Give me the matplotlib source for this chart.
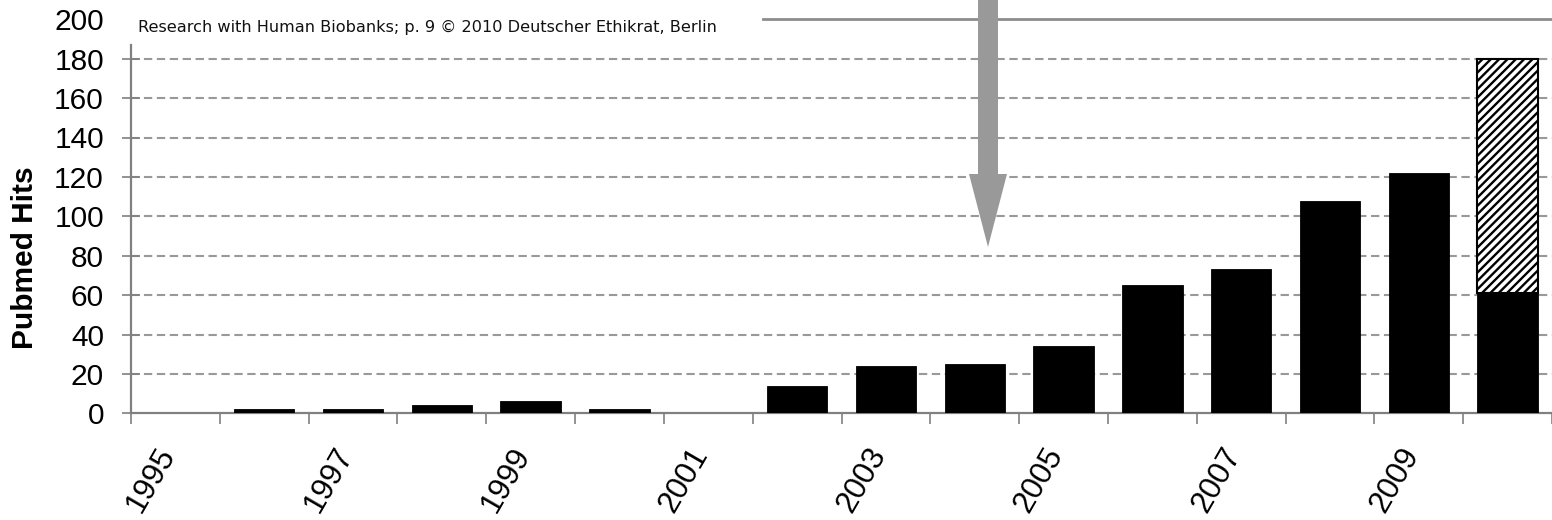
import matplotlib
matplotlib.use("Agg")
import matplotlib.pyplot as plt
from matplotlib.patches import FancyArrow
import matplotlib.transforms as mtransforms
import numpy as np

years = list(range(1995, 2011))
hits = [0, 2, 2, 4, 6, 2, 0, 14, 24, 25, 34, 65, 73, 108, 122, 61]
projected_total_2010 = 180
year_labels = [str(y) if y % 2 == 1 else "" for y in years]
y_ticks = [0, 20, 40, 60, 80, 100, 120, 140, 160, 180, 200]
source_text = "Research with Human Biobanks; p. 9 \u00a9 2010 Deutscher Ethikrat, Berlin"

plt.rcParams["hatch.linewidth"] = 1.7
plt.rcParams["font.family"] = ["Liberation Sans", "DejaVu Sans"]

W, H, DPI = 1552, 520, 100
fig = plt.figure(figsize=(W / DPI, H / DPI), dpi=DPI)

ax_l, ax_r, ax_b, ax_t = 131, 1552, 413.3, 19.3
ax = fig.add_axes([ax_l / W, (H - ax_b) / H, (ax_r - ax_l) / W, (ax_b - ax_t) / H])

x = np.arange(len(years))
bw = 0.68
ax.bar(x, hits, width=bw, color="black", edgecolor="black", linewidth=0.6, zorder=3)
extra = projected_total_2010 - hits[-1]
ax.bar(x[-1], extra, bottom=hits[-1], width=bw, color="white", edgecolor="black",
       hatch="////", linewidth=1.5, zorder=3)

cat_px = 89.4
span = (ax_r - ax_l) / cat_px
ax.set_xlim(-0.5, -0.5 + span)
ax.set_ylim(0, 200)

gray = "#808080"
for s in ["top", "right"]:
    ax.spines[s].set_visible(False)
for s in ["left", "bottom"]:
    ax.spines[s].set_color(gray)
    ax.spines[s].set_linewidth(1.6)
ax.spines["left"].set_bounds(0, 186.8)

# x ticks: marks at category boundaries, labels at centres
ax.set_xticks(np.arange(len(years) + 1) - 0.5)
ax.set_xticklabels([""] * (len(years) + 1))
ax.set_xticks(x, minor=True)
ax.set_xticklabels(year_labels, minor=True, rotation=60, ha="right", fontsize=22.5)
ax.tick_params(axis="x", which="major", direction="out", length=8, width=1.2, color=gray)
ax.tick_params(axis="x", which="minor", length=0, pad=21)
shift = mtransforms.ScaledTranslation(6 / DPI, 0, fig.dpi_scale_trans)
for lbl in ax.get_xticklabels(minor=True):
    lbl.set_transform(lbl.get_transform() + shift)

ax.set_yticks(y_ticks)
ax.set_yticklabels([str(v) for v in y_ticks], fontsize=21.5)
ax.tick_params(axis="y", direction="inout", length=13, width=1.2, color=gray, pad=13)
yt = ax.yaxis.get_major_ticks()
yt[-1].tick1line.set_visible(False)

ax.yaxis.grid(True, linestyle=(0, (4.0, 2.2)), color="#999999", linewidth=1.5, zorder=0)
ax.set_axisbelow(True)
yt[0].gridline.set_visible(False)
yt[-1].gridline.set_visible(False)

ax.axhline(200, xmin=(763 - ax_l) / (ax_r - ax_l), xmax=1, color="#8c8c8c",
           linewidth=2.0, clip_on=False, zorder=2)

ax.set_ylabel("Pubmed Hits", fontsize=21.5, fontweight="bold")
ax.yaxis.set_label_coords((39 - ax_l) / (ax_r - ax_l), 0.396)

fig.text(138 / W, (H - 32) / H, source_text, family="DejaVu Sans", fontsize=11.65,
         ha="left", va="baseline", color="#111111")

arrow = FancyArrow(9.88, 5.3, 0, -(5.3 - 2.73), width=0.20, head_width=0.38,
                   head_length=0.73, length_includes_head=True,
                   transform=fig.dpi_scale_trans, color="#999999", linewidth=0)
fig.add_artist(arrow)

fig.savefig("out.png", dpi=DPI)
